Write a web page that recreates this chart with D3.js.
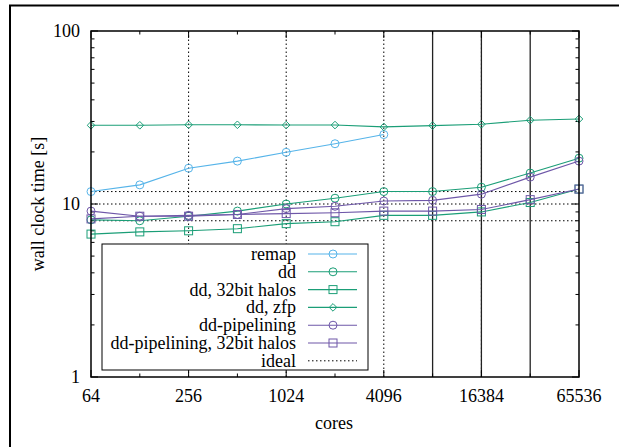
<!DOCTYPE html>
<html>
<head>
<meta charset="utf-8">
<script src="https://cdn.jsdelivr.net/npm/d3@7"></script>
<style>
  body { margin: 0; background: #fff; }
  text { font-family: 'Liberation Serif', 'Times New Roman', serif; font-size: 18px; fill: #000; }
</style>
</head>
<body>
<svg id="chart"></svg>
<script>
const cores = [64, 128, 256, 512, 1024, 2048, 4096, 8192, 16384, 32768, 65536]
const xTickLabels = [64, 256, 1024, 4096, 16384, 65536]
const yTickLabels = [1, 10, 100]

const remap = [11.8, 12.9, 16.1, 17.7, 19.9, 22.3, 25.2]
const dd = [8.1, 8.0, 8.5, 9.1, 10.0, 10.8, 11.8, 11.8, 12.5, 15.1, 18.4]
const dd32 = [6.7, 6.9, 7.0, 7.2, 7.7, 7.9, 8.6, 8.6, 9.0, 10.2, 12.2]
const ddZfp = [28.5, 28.5, 28.7, 28.7, 28.6, 28.6, 27.9, 28.4, 28.9, 30.5, 31.0]
const pipe = [9.1, 8.5, 8.6, 8.7, 9.4, 9.7, 10.4, 10.5, 11.4, 14.3, 17.7]
const pipe32 = [8.2, 8.5, 8.5, 8.7, 8.8, 8.9, 9.1, 9.1, 9.3, 10.6, 12.2]
const ideal = [11.8, 8.0]
const nodeLines = [8192, 16384, 32768]

const series = [
    { name: 'remap', values: remap, color: '#56b4e9', shape: 'circle' },
    { name: 'dd', values: dd, color: '#1b9e77', shape: 'circle' },
    { name: 'dd, 32bit halos', values: dd32, color: '#1b9e77', shape: 'square' },
    { name: 'dd, zfp', values: ddZfp, color: '#1b9e77', shape: 'diamond' },
    { name: 'dd-pipelining', values: pipe, color: '#6e57a8', shape: 'circle' },
    { name: 'dd-pipelining, 32bit halos', values: pipe32, color: '#6e57a8', shape: 'square' },
]

const width = 619
const height = 447
const margin = { top: 31, right: 40, bottom: 70, left: 91 }

const svg = d3.select('#chart').attr('width', width).attr('height', height)

// outer frame
svg.append('rect')
    .attr('x', 10).attr('y', 5.5)
    .attr('width', 700).attr('height', 600)
    .attr('fill', 'none').attr('stroke', '#000').attr('stroke-width', 2)

const xScale = d3.scaleLog().base(2).domain([64, 65536]).range([margin.left, width - margin.right])
const yScale = d3.scaleLog().domain([1, 100]).range([height - margin.bottom, margin.top])

const x0 = xScale.range()[0], x1 = xScale.range()[1]
const y0 = yScale.range()[0], y1 = yScale.range()[1]

// grid
const grid = svg.append('g')
grid.selectAll('.gx')
    .data(xTickLabels.slice(1, -1))
    .enter().append('line')
    .attr('x1', (d) => xScale(d)).attr('x2', (d) => xScale(d))
    .attr('y1', y0).attr('y2', y1)
    .attr('stroke', '#000').attr('stroke-width', 1).attr('stroke-dasharray', '1.5,2.5')
grid.selectAll('.gy')
    .data(yTickLabels.slice(1, -1))
    .enter().append('line')
    .attr('x1', x0).attr('x2', x1)
    .attr('y1', (d) => yScale(d)).attr('y2', (d) => yScale(d))
    .attr('stroke', '#000').attr('stroke-width', 1).attr('stroke-dasharray', '1.5,2.5')

// node boundaries
svg.selectAll('.node')
    .data(nodeLines)
    .enter().append('line')
    .attr('x1', (d) => xScale(d)).attr('x2', (d) => xScale(d))
    .attr('y1', y0).attr('y2', y1)
    .attr('stroke', '#222').attr('stroke-width', 1.3)

// ideal lines
svg.selectAll('.ideal')
    .data(ideal)
    .enter().append('line')
    .attr('x1', x0).attr('x2', x1)
    .attr('y1', (d) => yScale(d)).attr('y2', (d) => yScale(d))
    .attr('stroke', '#000').attr('stroke-width', 1).attr('stroke-dasharray', '1.5,2.5')

// ticks (inward, both sides)
const minorY = []
for (let e = 0; e < 2; e++) for (let m = 2; m < 10; m++) minorY.push(m * Math.pow(10, e))

const axes = svg.append('g').attr('stroke', '#000').attr('stroke-width', 1)
yTickLabels.forEach((d) => {
    axes.append('line').attr('x1', x0).attr('x2', x0 + 7).attr('y1', yScale(d)).attr('y2', yScale(d))
    axes.append('line').attr('x1', x1).attr('x2', x1 - 7).attr('y1', yScale(d)).attr('y2', yScale(d))
})
minorY.forEach((d) => {
    axes.append('line').attr('x1', x0).attr('x2', x0 + 3.5).attr('y1', yScale(d)).attr('y2', yScale(d))
    axes.append('line').attr('x1', x1).attr('x2', x1 - 3.5).attr('y1', yScale(d)).attr('y2', yScale(d))
})
cores.forEach((d) => {
    const len = xTickLabels.includes(d) ? 7 : 3.5
    axes.append('line').attr('x1', xScale(d)).attr('x2', xScale(d)).attr('y1', y0).attr('y2', y0 - len)
    axes.append('line').attr('x1', xScale(d)).attr('x2', xScale(d)).attr('y1', y1).attr('y2', y1 + len)
})

// tick labels
svg.selectAll('.xl')
    .data(xTickLabels)
    .enter().append('text')
    .attr('x', (d) => xScale(d)).attr('y', y0 + 25)
    .attr('text-anchor', 'middle')
    .text((d) => d)
svg.selectAll('.yl')
    .data(yTickLabels)
    .enter().append('text')
    .attr('x', x0 - 11).attr('y', (d) => yScale(d) + 6)
    .attr('text-anchor', 'end')
    .text((d) => d)

svg.append('text')
    .attr('x', 334).attr('y', 429)
    .attr('text-anchor', 'middle')
    .text('cores')
svg.append('text')
    .attr('transform', 'translate(44,' + yScale(10) + ') rotate(-90)')
    .attr('text-anchor', 'middle')
    .text('wall clock time [s]')

function drawMarker(g, shape, color, cx, cy) {
    if (shape === 'circle') {
        g.append('circle').attr('cx', cx).attr('cy', cy).attr('r', 4)
            .attr('fill', 'none').attr('stroke', color).attr('stroke-width', 1)
    } else if (shape === 'square') {
        g.append('rect').attr('x', cx - 4).attr('y', cy - 4).attr('width', 8).attr('height', 8)
            .attr('fill', 'none').attr('stroke', color).attr('stroke-width', 1)
    } else {
        g.append('path').attr('d', `M${cx},${cy - 3.8}L${cx + 3.8},${cy}L${cx},${cy + 3.8}L${cx - 3.8},${cy}Z`)
            .attr('fill', 'none').attr('stroke', color).attr('stroke-width', 1)
    }
}

const line = d3.line()
    .x((d, i) => xScale(cores[i]))
    .y((d) => yScale(d))

series.forEach((s) => {
    const g = svg.append('g')
    g.append('path')
        .datum(s.values)
        .attr('fill', 'none')
        .attr('stroke', s.color)
        .attr('stroke-width', 1.1)
        .attr('d', line)
    s.values.forEach((v, i) => drawMarker(g, s.shape, s.color, xScale(cores[i]), yScale(v)))
})

// plot border
svg.append('rect')
    .attr('x', x0).attr('y', y1)
    .attr('width', x1 - x0).attr('height', y0 - y1)
    .attr('fill', 'none').attr('stroke', '#000').attr('stroke-width', 1.5)

// legend
const lg = svg.append('g')
lg.append('rect')
    .attr('x', 102).attr('y', 244)
    .attr('width', 266).attr('height', 126)
    .attr('fill', '#fff').attr('stroke', '#000').attr('stroke-width', 1)
const rowH = 17.8
series.forEach((s, i) => {
    const cy = 254 + i * rowH
    lg.append('text').attr('x', 296).attr('y', cy + 6).attr('text-anchor', 'end').text(s.name)
    lg.append('line').attr('x1', 308).attr('x2', 357).attr('y1', cy).attr('y2', cy)
        .attr('stroke', s.color).attr('stroke-width', 1.1)
    drawMarker(lg, s.shape, s.color, 333, cy)
})
const iy = 254 + 6 * rowH
lg.append('text').attr('x', 296).attr('y', iy + 6).attr('text-anchor', 'end').text('ideal')
lg.append('line').attr('x1', 308).attr('x2', 357).attr('y1', iy).attr('y2', iy)
    .attr('stroke', '#000').attr('stroke-width', 1).attr('stroke-dasharray', '1.5,2.5')
</script>
</body>
</html>
